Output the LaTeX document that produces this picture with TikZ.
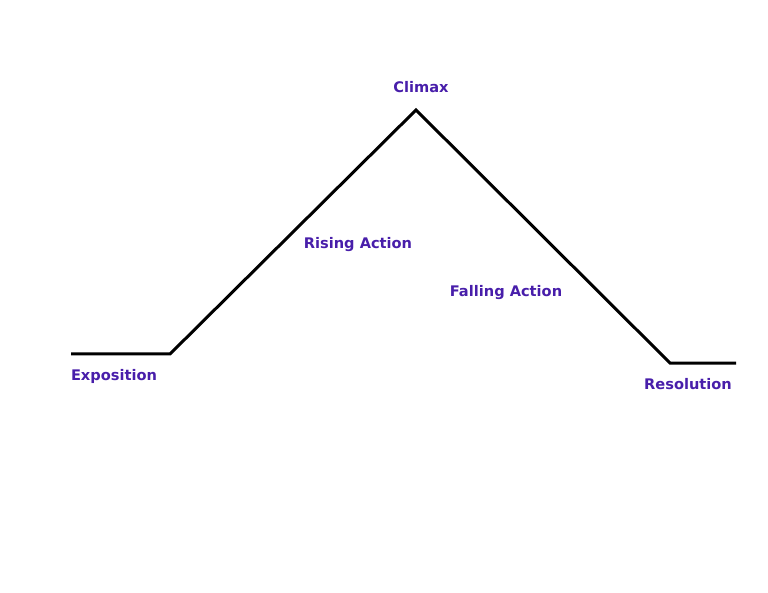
\documentclass[tikz,border=0pt]{standalone}
\usepackage{fontspec}
\setmainfont{DejaVu Sans}
\definecolor{lbl}{RGB}{72,30,170}
\begin{document}
\begin{tikzpicture}[x=1pt,y=-1pt,
  lab/.style={text=lbl,font=\fontsize{14.6}{17}\selectfont\bfseries,inner sep=0pt},
  plot/.style={line width=3pt,line join=miter}]
\useasboundingbox (0,0) rectangle (768,593);
\coordinate (a) at (71,354);
\coordinate (b) at (170,354);
\coordinate (c) at (416,110);
\coordinate (d) at (670,363);
\coordinate (e) at (736,363);
\draw[plot] (a) -- (b) -- (c) -- (d) -- (e);
\node[lab] (climax) at (421,87) {Climax};
\node[lab] (expo) at (114,376) {Exposition};
\node[lab] (reso) at (688,384) {Resolution};
\node[lab] (rising) at (358,245) {Rising Action};
\node[lab] (falling) at (506,293) {Falling Action};
\end{tikzpicture}
\end{document}
